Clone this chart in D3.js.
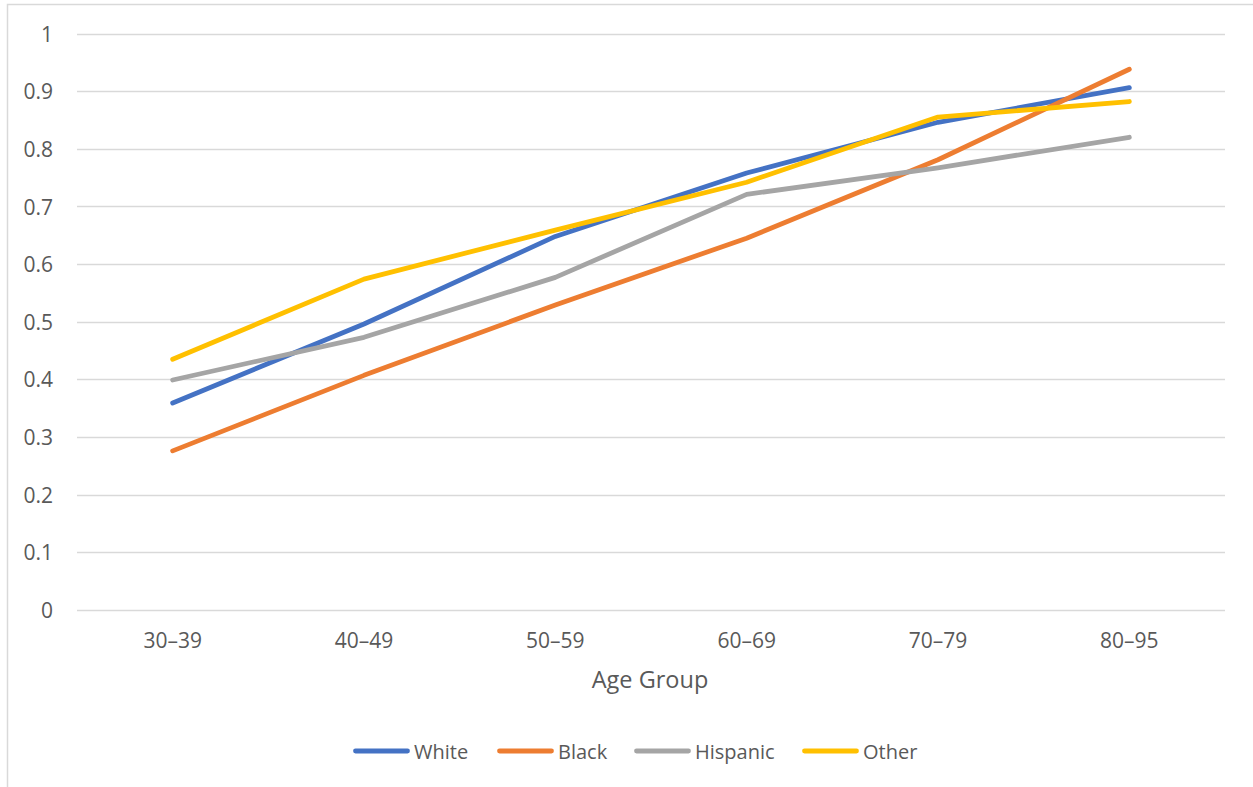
<!DOCTYPE html>
<html><head><meta charset="utf-8">
<script src="https://cdn.jsdelivr.net/npm/d3@7"></script>
<style>body{margin:0;background:#fff;} svg{display:block;font-family:"Open Sans","Liberation Sans",sans-serif;}</style>
</head><body><svg id="c" width="1253" height="787"></svg>
<script>
const categories = ["30–39","40–49","50–59","60–69","70–79","80–95"];
const white    = [0.359,0.496,0.648,0.758,0.846,0.906];
const black    = [0.276,0.407,0.529,0.645,0.781,0.938];
const hispanic = [0.399,0.473,0.577,0.721,0.767,0.820];
const other    = [0.435,0.574,0.659,0.742,0.855,0.882];
const yTicks = [0,0.1,0.2,0.3,0.4,0.5,0.6,0.7,0.8,0.9,1];
const seriesNames = ["White","Black","Hispanic","Other"];
const seriesColors = ["#4472C4","#ED7D31","#A5A5A5","#FFC000"];
const series = [white, black, hispanic, other];
const FONT = "'Open Sans','Liberation Sans',sans-serif";

const svg = d3.select("#c");
svg.append("rect").attr("x",7.5).attr("y",4.5).attr("width",1260).attr("height",800)
  .attr("fill","#fff").attr("stroke","#d9d9d9").attr("stroke-width",1.5);

const x = d3.scaleBand().domain(categories).range([77,1225]);
const y = d3.scaleLinear().domain([0,1]).range([610,33.5]);

const grid = svg.append("g");
grid.selectAll("line").data(yTicks).join("line")
  .attr("x1",77).attr("x2",1225)
  .attr("y1",d=>Math.round(y(d))+0.5).attr("y2",d=>Math.round(y(d))+0.5)
  .attr("stroke","#d9d9d9").attr("stroke-width",1.3);

const yAxis = d3.axisLeft(y).tickValues(yTicks).tickFormat(d=>String(d)).tickSize(0).tickPadding(0);
const ya = svg.append("g").attr("transform","translate(53,0)").call(yAxis);
ya.select(".domain").remove();
ya.selectAll("text").attr("fill","#595959").attr("dy","0.36em").style("font-size","21px").style("font-family",FONT);

const xAxis = d3.axisBottom(x).tickSize(0).tickPadding(0);
const xa = svg.append("g").attr("transform","translate(0,648)").call(xAxis);
xa.select(".domain").remove();
xa.selectAll("text").attr("fill","#595959").attr("dy",0).style("font-size","21px").style("font-family",FONT);

svg.append("text").attr("x",650).attr("y",688).attr("text-anchor","middle")
  .attr("fill","#595959").style("font-size","23.5px").style("font-family",FONT).text("Age Group");

const line = d3.line().x((d,i)=>x(categories[i])+x.bandwidth()/2).y(d=>y(d));
series.forEach((s,k)=>{
  svg.append("path").datum(s).attr("d",line).attr("fill","none")
    .attr("stroke",seriesColors[k]).attr("stroke-width",4.8)
    .attr("stroke-linecap","round").attr("stroke-linejoin","round");
});

const legX = [353,497,634,802];
const lg = svg.append("g");
seriesNames.forEach((n,k)=>{
  lg.append("line").attr("x1",legX[k]+2.5).attr("x2",legX[k]+54.5).attr("y1",751).attr("y2",751)
    .attr("stroke",seriesColors[k]).attr("stroke-width",4.8).attr("stroke-linecap","round");
  lg.append("text").attr("x",legX[k]+61).attr("y",758.5).attr("fill","#595959")
    .style("font-size","20px").style("font-family",FONT).text(n);
});
</script></body></html>
